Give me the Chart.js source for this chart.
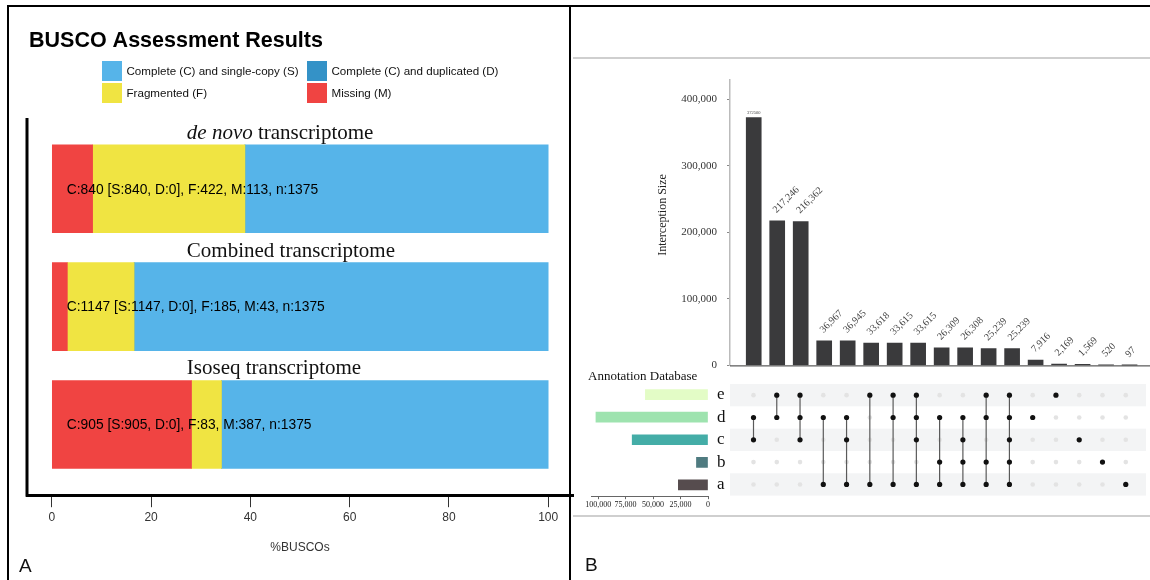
<!DOCTYPE html>
<html>
<head>
<meta charset="utf-8">
<title>BUSCO assessment and annotation overlap</title>
<script src="https://cdn.jsdelivr.net/npm/chart.js@4.4.0/dist/chart.umd.min.js"></script>
<style>
    html, body { margin: 0; padding: 0; background: #fff; }
    #page { position: relative; width: 1150px; height: 580px; overflow: hidden; }
    canvas { position: absolute; }
    .rule { position: absolute; background: #000; }
    .grey { position: absolute; background: #cfcfcf; }
</style>
</head>
<body>
<div id="page">
    <canvas id="busco" width="575" height="580" style="left:0px;top:0px"></canvas>
    <canvas id="sizes" width="578" height="322" style="left:572px;top:60px"></canvas>
    <canvas id="setsizes" width="165" height="210" style="left:572px;top:370px"></canvas>
    <canvas id="matrix" width="430" height="120" style="left:720px;top:380px"></canvas>
    <div class="rule" style="left:7px;top:5px;width:2px;height:575px"></div>
    <div class="rule" style="left:7px;top:5px;width:1143px;height:2px"></div>
    <div class="rule" style="left:569px;top:5px;width:2px;height:575px"></div>
    <div class="grey" style="left:573px;top:57px;width:577px;height:2px"></div>
    <div class="grey" style="left:573px;top:515px;width:577px;height:2px"></div>
</div>
<script>
// --- Panel A data (BUSCO counts) ---
const buscoCategories = ['de novo transcriptome', 'Combined transcriptome', 'Isoseq transcriptome'];
const italicTerm = 'de novo';
const singleCopy = [840, 1147, 905];
const duplicated = [0, 0, 0];
const fragmented = [422, 185, 83];
const missing = [113, 43, 387];
const totalBuscos = [1375, 1375, 1375];
const buscoTicks = [0, 20, 40, 60, 80, 100];

// --- Panel B data (UpSet) ---
const intersectionSizes = [372500, 217246, 216362, 36967, 36945, 33618, 33615, 33615, 26309, 26308, 25239, 25239, 7916, 2169, 1569, 520, 97];
const intersectionSets = [
    ['d', 'c'], ['e', 'd'], ['e', 'd', 'c'], ['d', 'a'], ['d', 'c', 'a'], ['e', 'a'],
    ['e', 'd', 'a'], ['e', 'd', 'c', 'a'], ['d', 'b', 'a'], ['d', 'c', 'b', 'a'],
    ['e', 'd', 'b', 'a'], ['e', 'd', 'c', 'b', 'a'], ['d'], ['e'], ['c'], ['b'], ['a']
];
const sizeTicks = [0, 100000, 200000, 300000, 400000];
const setNames = ['e', 'd', 'c', 'b', 'a'];
const setSizes = [57000, 102000, 69000, 10500, 27000];
const setTicks = [0, 25000, 50000, 75000, 100000];

const SANS = '"Liberation Sans", Arial, sans-serif';
const SERIF = '"Liberation Serif", "Times New Roman", serif';
const pct = (arr) => arr.map((v, i) => v / totalBuscos[i] * 100);

// --- Panel A: stacked BUSCO bars ---
const buscoSeries = [
    { label: 'Missing (M)', counts: missing, color: '#F04442' },
    { label: 'Fragmented (F)', counts: fragmented, color: '#F0E442' },
    { label: 'Complete (C) and duplicated (D)', counts: duplicated, color: '#3492C7' },
    { label: 'Complete (C) and single-copy (S)', counts: singleCopy, color: '#56B4E9' }
];
const BAR_A = 88;

const buscoDecor = {
    id: 'buscoDecor',
    afterDraw(chart) {
        const { ctx, chartArea, scales: { x, y } } = chart;
        ctx.save();
        // left axis line
        ctx.strokeStyle = '#000';
        ctx.lineWidth = 3;
        ctx.beginPath();
        ctx.moveTo(chartArea.left, chartArea.top);
        ctx.lineTo(chartArea.left, chartArea.bottom + 1.5);
        ctx.stroke();

        // title
        ctx.fillStyle = '#000';
        ctx.textAlign = 'left';
        ctx.textBaseline = 'alphabetic';
        ctx.font = 'bold 21.5px ' + SANS;
        ctx.fillText('BUSCO Assessment Results', 29, 47);

        // legend, 2 x 2
        [3, 2, 1, 0].forEach((di, k) => {
            const ds = chart.data.datasets[di];
            const lx = k % 2 === 0 ? 102 : 307;
            const ly = k < 2 ? 61 : 83;
            ctx.fillStyle = ds.backgroundColor;
            ctx.fillRect(lx, ly, 20, 20);
            ctx.fillStyle = '#111';
            ctx.font = '11.6px ' + SANS;
            ctx.textBaseline = 'middle';
            ctx.fillText(ds.label, lx + 24.5, ly + 10.5);
        });

        // category headings + summary strings
        buscoCategories.forEach((name, i) => {
            const cy = y.getPixelForValue(i + 1);
            const top = cy - BAR_A / 2;
            let tx = x.getPixelForValue(0) + 135;
            let rest = name;
            ctx.fillStyle = '#111';
            ctx.textBaseline = 'alphabetic';
            if (name.startsWith(italicTerm)) {
                ctx.font = 'italic 21px ' + SERIF;
                ctx.fillText(italicTerm, tx, top - 6);
                tx += ctx.measureText(italicTerm).width;
                rest = name.slice(italicTerm.length);
            }
            ctx.font = '21px ' + SERIF;
            ctx.fillText(rest, tx, top - 6);

            const s = singleCopy[i], d = duplicated[i];
            const txt = `C:${s + d} [S:${s}, D:${d}], F:${fragmented[i]}, M:${missing[i]}, n:${totalBuscos[i]}`;
            ctx.fillStyle = '#000';
            ctx.font = '13.8px ' + SANS;
            ctx.textBaseline = 'middle';
            ctx.fillText(txt, x.getPixelForValue(0) + 15, cy + 1);
        });

        ctx.fillStyle = '#111';
        ctx.font = '19px ' + SANS;
        ctx.textBaseline = 'alphabetic';
        ctx.fillText('A', 19, 572);
        ctx.restore();
    }
};

new Chart(document.getElementById('busco'), {
    type: 'bar',
    data: {
        datasets: buscoSeries.map(s => ({
            label: s.label,
            data: pct(s.counts).map((v, i) => ({ x: v, y: i + 1 })),
            backgroundColor: s.color,
            borderWidth: 0,
            barThickness: BAR_A
        }))
    },
    options: {
        indexAxis: 'y',
        responsive: false,
        animation: false,
        devicePixelRatio: 1,
        layout: { padding: { left: 27, right: 2, top: 118, bottom: 21 } },
        plugins: { legend: { display: false }, tooltip: { enabled: false } },
        scales: {
            x: {
                type: 'linear', min: -5, max: 105, stacked: true,
                afterBuildTicks: s => { s.ticks = buscoTicks.map(v => ({ value: v })); },
                grid: { drawOnChartArea: false, drawTicks: true, tickLength: 12, color: '#333', lineWidth: 1 },
                border: { display: true, color: '#000', width: 3 },
                ticks: { padding: 3, color: '#333', font: { family: SANS, size: 12 } },
                title: { display: true, text: '%BUSCOs', color: '#333', font: { family: SANS, size: 12 }, padding: { top: 13, bottom: 4 } }
            },
            y: { type: 'linear', min: 0.4, max: 3.6, reverse: true, offset: false, stacked: true, display: false }
        }
    },
    plugins: [buscoDecor]
});

// --- Panel B: intersection sizes ---
const xMin = -1.01, xMax = 16.87;

const sizeDecor = {
    id: 'sizeDecor',
    afterDraw(chart) {
        const { ctx, chartArea } = chart;
        ctx.save();
        ctx.strokeStyle = '#333';
        ctx.lineWidth = 1;
        ctx.beginPath();
        ctx.moveTo(chartArea.left, chartArea.bottom + 0.5);
        ctx.lineTo(chartArea.right, chartArea.bottom + 0.5);
        ctx.stroke();

        const meta = chart.getDatasetMeta(0);
        ctx.fillStyle = '#444';
        meta.data.forEach((bar, i) => {
            const v = intersectionSizes[i];
            ctx.save();
            if (i === 0) {
                ctx.font = '4.5px ' + SERIF;
                ctx.textAlign = 'center';
                ctx.textBaseline = 'bottom';
                ctx.fillText(String(v), bar.x, bar.y - 3);
            } else {
                ctx.translate(bar.x + 1, bar.y - 6);
                ctx.rotate(-Math.PI / 4);
                ctx.font = '10px ' + SERIF;
                ctx.textAlign = 'left';
                ctx.textBaseline = 'bottom';
                ctx.fillText(v.toLocaleString('en-US'), 0, 0);
            }
            ctx.restore();
        });

        ctx.save();
        ctx.translate(91, 155);
        ctx.rotate(-Math.PI / 2);
        ctx.fillStyle = '#222';
        ctx.font = '12px ' + SERIF;
        ctx.textAlign = 'center';
        ctx.textBaseline = 'middle';
        ctx.fillText('Interception Size', 0, 0);
        ctx.restore();
        ctx.restore();
    }
};

new Chart(document.getElementById('sizes'), {
    type: 'bar',
    data: {
        datasets: [{
            data: intersectionSizes.map((v, i) => ({ x: i, y: v })),
            backgroundColor: '#3a3a3c',
            borderWidth: 0,
            barThickness: 15
        }]
    },
    options: {
        responsive: false,
        animation: false,
        devicePixelRatio: 1,
        layout: { padding: { left: 85, right: 0, top: 20, bottom: 6 } },
        plugins: { legend: { display: false }, tooltip: { enabled: false } },
        scales: {
            x: { type: 'linear', min: xMin, max: xMax, offset: false, display: false },
            y: {
                min: 0, max: 429000,
                afterBuildTicks: s => { s.ticks = sizeTicks.map(v => ({ value: v })); },
                afterFit: s => { s.width = 73; },
                grid: { drawOnChartArea: false, tickLength: 3, color: '#888' },
                border: { color: '#bbb', width: 1.5 },
                ticks: { padding: 10, color: '#333', font: { family: SERIF, size: 11 }, callback: v => v.toLocaleString('en-US') }
            }
        }
    },
    plugins: [sizeDecor]
});

// --- Panel B: set sizes ---
const setColors = ['#e3fcc6', '#9ee3af', '#44ada7', '#4f7b80', '#564c4e'];

const setDecor = {
    id: 'setDecor',
    afterDraw(chart) {
        const { ctx } = chart;
        ctx.save();
        ctx.fillStyle = '#111';
        ctx.textAlign = 'left';
        ctx.textBaseline = 'alphabetic';
        ctx.font = '13px ' + SERIF;
        ctx.fillText('Annotation Database', 16, 10);
        ctx.font = '19px ' + SANS;
        ctx.fillText('B', 13, 201);
        ctx.restore();
    }
};

new Chart(document.getElementById('setsizes'), {
    type: 'bar',
    data: {
        labels: setNames,
        datasets: [{ data: setSizes, backgroundColor: setColors, borderWidth: 0, barThickness: 10 }]
    },
    options: {
        indexAxis: 'y',
        responsive: false,
        animation: false,
        devicePixelRatio: 1,
        layout: { padding: { left: 19, right: 0, top: 13.3, bottom: 69.2 } },
        plugins: { legend: { display: false }, tooltip: { enabled: false } },
        scales: {
            x: {
                reverse: true, min: 0, max: 106500,
                afterBuildTicks: s => { s.ticks = setTicks.map(v => ({ value: v })); },
                grid: { drawOnChartArea: false, tickLength: 3, color: '#666' },
                border: { color: '#666', width: 1 },
                ticks: { padding: 1, autoSkip: false, maxRotation: 0, color: '#222', font: { family: SERIF, size: 8 }, callback: v => v.toLocaleString('en-US') }
            },
            y: {
                position: 'right',
                afterFit: s => { s.width = 29; s.paddingTop = 0; s.paddingBottom = 0; },
                grid: { display: false, drawTicks: false },
                border: { display: false },
                ticks: { padding: 9, autoSkip: false, crossAlign: 'near', color: '#111', font: { family: SERIF, size: 17 } }
            }
        }
    },
    plugins: [setDecor]
});

// --- Panel B: membership matrix ---
const activePts = [], inactivePts = [], links = [];
intersectionSets.forEach((sets, i) => {
    setNames.forEach((n, r) => {
        (sets.includes(n) ? activePts : inactivePts).push({ x: i, y: r });
    });
    const rows = sets.map(n => setNames.indexOf(n));
    if (rows.length > 1) {
        links.push({
            type: 'line',
            data: [{ x: i, y: Math.min(...rows) }, { x: i, y: Math.max(...rows) }],
            borderColor: '#5a5a5a',
            borderWidth: 1.2,
            pointRadius: 0
        });
    }
});

const stripes = {
    id: 'stripes',
    beforeDatasetsDraw(chart) {
        const { ctx, chartArea, scales: { y } } = chart;
        ctx.save();
        ctx.fillStyle = '#f3f4f5';
        setNames.forEach((n, r) => {
            if (r % 2 !== 0) return;
            const a = y.getPixelForValue(r - 0.5), b = y.getPixelForValue(r + 0.5);
            ctx.fillRect(chartArea.left, Math.min(a, b), chartArea.right - chartArea.left, Math.abs(b - a));
        });
        ctx.restore();
    }
};

new Chart(document.getElementById('matrix'), {
    type: 'scatter',
    data: {
        datasets: [
            { data: activePts, pointRadius: 2.6, backgroundColor: '#111', borderWidth: 0 },
            ...links,
            { data: inactivePts, pointRadius: 2.3, backgroundColor: '#e3e3e3', borderWidth: 0 }
        ]
    },
    options: {
        responsive: false,
        animation: false,
        devicePixelRatio: 1,
        layout: { padding: { left: 10, right: 0, top: 3.6, bottom: 4.4 } },
        plugins: { legend: { display: false }, tooltip: { enabled: false } },
        scales: {
            x: { type: 'linear', min: xMin, max: xMax, offset: false, display: false },
            y: { type: 'linear', min: -0.5, max: 4.5, reverse: true, offset: false, display: false }
        }
    },
    plugins: [stripes]
});
</script>
</body>
</html>
